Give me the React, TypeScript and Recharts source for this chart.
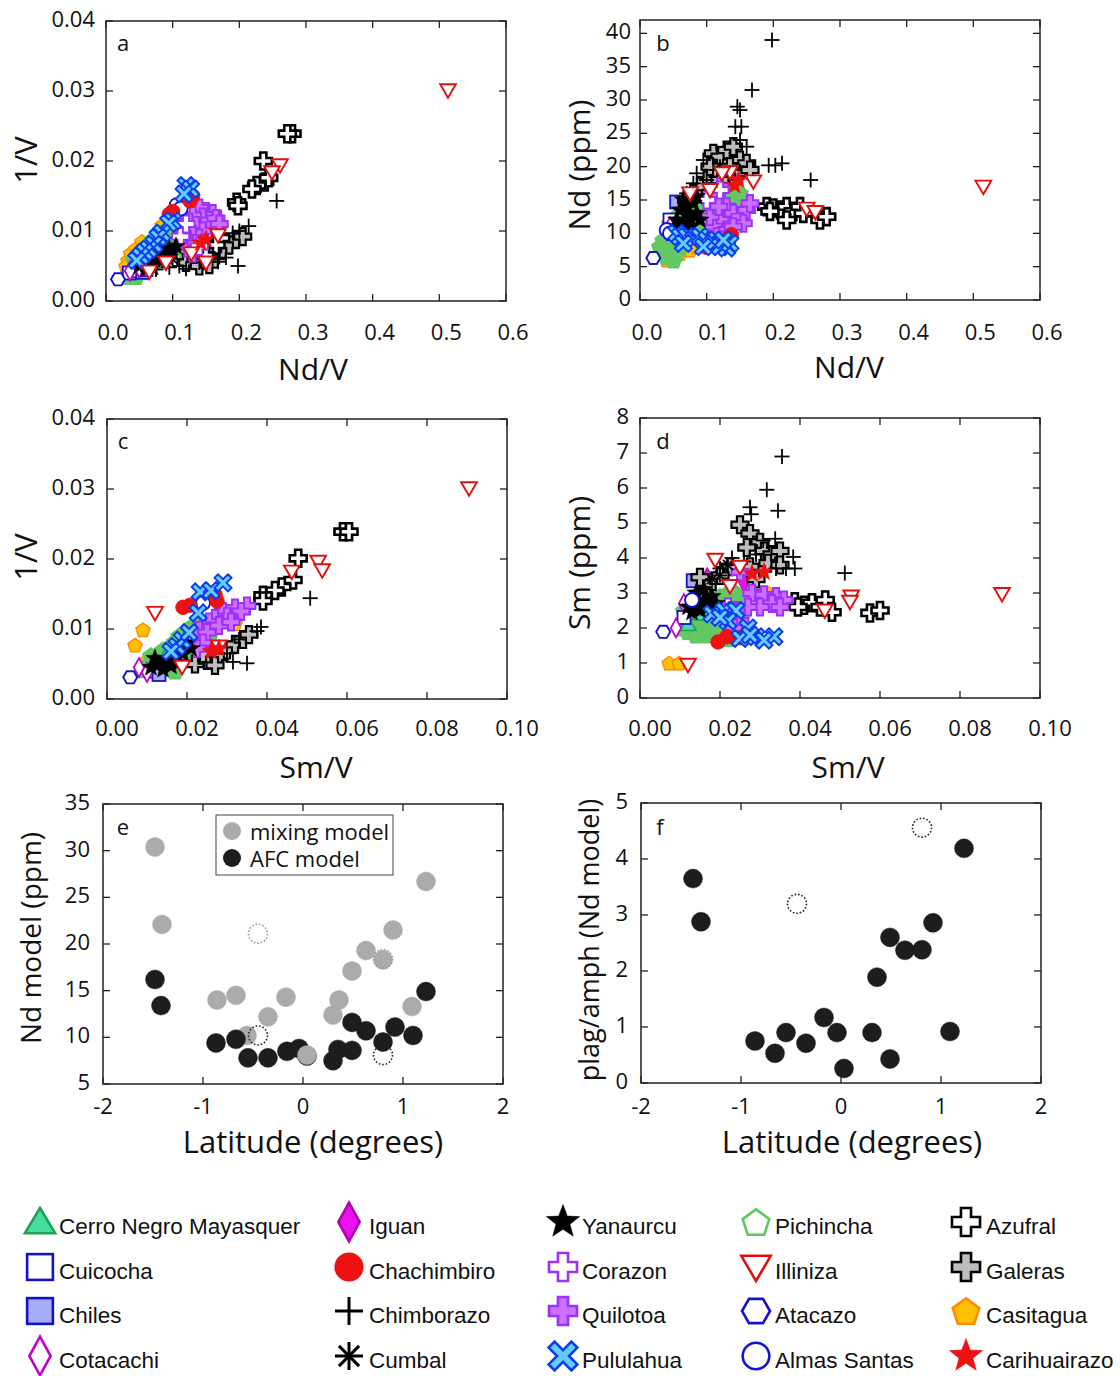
import React from 'react';
import { ScatterChart, Scatter, XAxis, YAxis, ReferenceArea } from 'recharts';

type Pt = [number, number];

// ---------------- Panel a: Nd/V (x) vs 1/V (y)
const aCerro: Pt[] = [[0.05, 0.0052], [0.065, 0.007], [0.08, 0.0085]];
const aCuicocha: Pt[] = [[0.035, 0.004], [0.048, 0.0043]];
const aChiles: Pt[] = [[0.055, 0.0041], [0.06, 0.0045]];
const aCotacachi: Pt[] = [[0.036, 0.0043], [0.05, 0.0047]];
const aIguan: Pt[] = [[0.11, 0.0085], [0.125, 0.0072]];
const aChachimbiro: Pt[] = [[0.13, 0.015], [0.126, 0.0143], [0.1, 0.0128], [0.095, 0.0124]];
const aChimborazo: Pt[] = [[0.256, 0.0143], [0.214, 0.0107], [0.2, 0.01], [0.19, 0.0097], [0.198, 0.005], [0.168, 0.0056], [0.18, 0.0062], [0.16, 0.006], [0.14, 0.0055], [0.11, 0.005], [0.095, 0.0048], [0.075, 0.0045], [0.12, 0.0046]];
const aCumbal: Pt[] = [[0.07, 0.0052], [0.08, 0.0058], [0.09, 0.0055], [0.1, 0.006]];
const aYanaurcu: Pt[] = [[0.05, 0.005], [0.055, 0.0058], [0.06, 0.0052], [0.065, 0.0062], [0.07, 0.0055], [0.075, 0.0066], [0.08, 0.006], [0.085, 0.007], [0.09, 0.0063], [0.095, 0.0075], [0.1, 0.007], [0.06, 0.0045], [0.07, 0.0048], [0.078, 0.0073], [0.105, 0.0078]];
const aCorazon: Pt[] = [[0.112, 0.0092], [0.12, 0.011], [0.14, 0.0078]];
const aQuilotoa: Pt[] = [[0.15, 0.0128], [0.16, 0.0125], [0.14, 0.0133], [0.145, 0.012], [0.155, 0.0115], [0.165, 0.0118], [0.13, 0.0122], [0.125, 0.0113], [0.135, 0.0108], [0.145, 0.01], [0.12, 0.0102], [0.13, 0.0095], [0.115, 0.0095], [0.12, 0.0086], [0.14, 0.009], [0.125, 0.0078], [0.135, 0.0082], [0.13, 0.0068], [0.17, 0.011]];
const aPululahua: Pt[] = [[0.12, 0.0165], [0.127, 0.016], [0.117, 0.0153], [0.1, 0.0114], [0.094, 0.0111], [0.084, 0.0097], [0.078, 0.0091], [0.072, 0.0081], [0.064, 0.0074], [0.058, 0.007], [0.052, 0.0064], [0.046, 0.0058]];
const aPichincha: Pt[] = [[0.03, 0.0035], [0.04, 0.0045], [0.05, 0.0055], [0.058, 0.0065], [0.066, 0.0075], [0.074, 0.0083], [0.082, 0.0092], [0.09, 0.01], [0.098, 0.0107], [0.105, 0.0112], [0.112, 0.0105], [0.125, 0.0098], [0.132, 0.009], [0.045, 0.0035], [0.06, 0.0048], [0.075, 0.0058], [0.088, 0.0068], [0.1, 0.0078], [0.118, 0.0082], [0.13, 0.0075], [0.035, 0.004], [0.055, 0.0042], [0.07, 0.0065], [0.085, 0.008], [0.11, 0.009], [0.095, 0.0088], [0.12, 0.0068], [0.14, 0.0082], [0.1, 0.0095], [0.108, 0.01], [0.115, 0.0108], [0.135, 0.0095], [0.138, 0.0088], [0.09, 0.0085], [0.042, 0.006], [0.05, 0.0068], [0.06, 0.0078], [0.07, 0.0088], [0.08, 0.0098], [0.1, 0.0105]];
const aIlliniza: Pt[] = [[0.513, 0.0301], [0.261, 0.0194], [0.249, 0.0184], [0.168, 0.0094], [0.128, 0.0068], [0.15, 0.0055], [0.09, 0.0055], [0.065, 0.0042]];
const aAtacazo: Pt[] = [[0.018, 0.0031]];
const aAlmas: Pt[] = [[0.106, 0.0137], [0.112, 0.0132]];
const aAzufral: Pt[] = [[0.279, 0.0239], [0.272, 0.0239], [0.236, 0.02], [0.238, 0.017], [0.244, 0.0176], [0.226, 0.0165], [0.219, 0.016], [0.196, 0.0141], [0.198, 0.0136], [0.172, 0.009], [0.165, 0.008], [0.15, 0.0065]];
const aGaleras: Pt[] = [[0.12, 0.0055], [0.135, 0.006], [0.15, 0.0058], [0.165, 0.0066], [0.175, 0.0072], [0.185, 0.008], [0.16, 0.0074], [0.14, 0.005], [0.155, 0.0052], [0.195, 0.0088], [0.205, 0.0092]];
const aCasitagua: Pt[] = [[0.033, 0.0058], [0.037, 0.0068], [0.045, 0.0075], [0.054, 0.0085], [0.084, 0.0108], [0.03, 0.005]];
const aCarihuairazo: Pt[] = [[0.142, 0.0083], [0.15, 0.0088]];

// ---------------- Panel b: Nd/V (x) vs Nd ppm (y)
const bCerro: Pt[] = [[0.05, 11], [0.06, 12]];
const bCuicocha: Pt[] = [[0.045, 12], [0.05, 10]];
const bChiles: Pt[] = [[0.055, 14.7]];
const bCotacachi: Pt[] = [[0.045, 11], [0.06, 10]];
const bIguan: Pt[] = [[0.1, 18], [0.095, 17]];
const bChachimbiro: Pt[] = [[0.1, 7.9], [0.097, 8.3], [0.132, 9.3], [0.137, 9.8]];
const bChimborazo: Pt[] = [[0.198, 39], [0.168, 31.5], [0.146, 29], [0.15, 28.5], [0.143, 26], [0.152, 26], [0.193, 20.2], [0.203, 20.2], [0.213, 20.5], [0.256, 18], [0.16, 23], [0.15, 24], [0.12, 20], [0.1, 18], [0.08, 17.5], [0.07, 16], [0.085, 19], [0.095, 21], [0.11, 19.5]];
const bCumbal: Pt[] = [[0.07, 13], [0.08, 12.5]];
const bYanaurcu: Pt[] = [[0.055, 12], [0.06, 13.5], [0.065, 11.5], [0.07, 14], [0.075, 12.5], [0.08, 14.5], [0.085, 13], [0.09, 12], [0.065, 15], [0.058, 11], [0.075, 11], [0.085, 15.5]];
const bCorazon: Pt[] = [[0.1, 15], [0.12, 16.5]];
const bQuilotoa: Pt[] = [[0.105, 15], [0.115, 16], [0.12, 17], [0.13, 14], [0.14, 13], [0.15, 12.5], [0.16, 13.5], [0.165, 14.5], [0.155, 11.5], [0.12, 12], [0.11, 11], [0.13, 10.5], [0.115, 9.5], [0.125, 9], [0.14, 11], [0.105, 12.5], [0.118, 14]];
const bPululahua: Pt[] = [[0.055, 10], [0.06, 9.5], [0.07, 9.5], [0.08, 9], [0.09, 9.5], [0.1, 9], [0.11, 8.5], [0.12, 8], [0.13, 7.8], [0.135, 8.5], [0.125, 9], [0.095, 8], [0.065, 8.5]];
const bPichincha: Pt[] = [[0.03, 8], [0.04, 9], [0.05, 8.5], [0.058, 10], [0.066, 11], [0.074, 12], [0.082, 11.5], [0.09, 12.5], [0.098, 13.5], [0.105, 14], [0.112, 14.5], [0.125, 15.5], [0.132, 15], [0.045, 11.5], [0.06, 8], [0.075, 9.5], [0.088, 10], [0.1, 10.5], [0.118, 12], [0.13, 13], [0.035, 7.5], [0.055, 12.5], [0.07, 10.5], [0.085, 13], [0.11, 12], [0.095, 11], [0.12, 16], [0.14, 14], [0.04, 6.5], [0.05, 6], [0.1, 13], [0.11, 15], [0.12, 14], [0.13, 16.5], [0.14, 15.5], [0.15, 16], [0.09, 14], [0.08, 12], [0.065, 9.5], [0.045, 8], [0.055, 7], [0.035, 9], [0.1, 11.5], [0.092, 10.5]];
const bIlliniza: Pt[] = [[0.515, 17], [0.25, 13.7], [0.263, 13.2], [0.17, 17.8], [0.135, 19.2], [0.123, 19], [0.075, 16], [0.105, 16.5]];
const bAtacazo: Pt[] = [[0.02, 6.3]];
const bAlmas: Pt[] = [[0.04, 10.5], [0.045, 10]];
const bAzufral: Pt[] = [[0.19, 14], [0.2, 13.8], [0.21, 13.5], [0.22, 14], [0.23, 13.3], [0.24, 14], [0.245, 13], [0.22, 12], [0.27, 12], [0.28, 12.5], [0.195, 13.3]];
const bGaleras: Pt[] = [[0.11, 22], [0.12, 21.5], [0.13, 22.5], [0.14, 23], [0.15, 21], [0.16, 20.5], [0.145, 19], [0.13, 18.5], [0.1, 18], [0.09, 17], [0.08, 16], [0.07, 15], [0.12, 18], [0.165, 19.5], [0.105, 20], [0.135, 20]];
const bCasitagua: Pt[] = [[0.04, 6], [0.05, 6.2], [0.06, 7], [0.075, 7.5], [0.085, 8], [0.035, 7]];
const bCarihuairazo: Pt[] = [[0.142, 17.2], [0.148, 18]];

// ---------------- Panel c: Sm/V (x) vs 1/V (y)
const cCerro: Pt[] = [[0.012, 0.005], [0.015, 0.0065]];
const cCuicocha: Pt[] = [[0.012, 0.004]];
const cChiles: Pt[] = [[0.013, 0.0035]];
const cCotacachi: Pt[] = [[0.008, 0.0045], [0.01, 0.0038]];
const cIguan: Pt[] = [[0.025, 0.007]];
const cChachimbiro: Pt[] = [[0.019, 0.0131], [0.0208, 0.0134], [0.027, 0.0149], [0.0275, 0.014]];
const cChimborazo: Pt[] = [[0.0508, 0.0144], [0.0385, 0.0103], [0.0375, 0.0097], [0.0315, 0.0053], [0.035, 0.0051], [0.033, 0.0085], [0.03, 0.0065]];
const cCumbal: Pt[] = [[0.014, 0.0048], [0.016, 0.0052]];
const cYanaurcu: Pt[] = [[0.011, 0.0045], [0.013, 0.005], [0.015, 0.0055], [0.017, 0.006], [0.019, 0.0065], [0.021, 0.0072], [0.014, 0.0042], [0.016, 0.0047], [0.012, 0.0058], [0.018, 0.0052], [0.02, 0.008]];
const cCorazon: Pt[] = [[0.02, 0.0085]];
const cQuilotoa: Pt[] = [[0.035, 0.0133], [0.032, 0.013], [0.0335, 0.0125], [0.029, 0.0125], [0.03, 0.0118], [0.027, 0.0115], [0.0255, 0.011], [0.024, 0.0105], [0.023, 0.0098], [0.022, 0.009], [0.025, 0.0095], [0.028, 0.0105], [0.024, 0.008], [0.0225, 0.0072], [0.031, 0.011]];
const cPululahua: Pt[] = [[0.0233, 0.0153], [0.026, 0.0155], [0.029, 0.0166], [0.0228, 0.0123], [0.0188, 0.0084], [0.0175, 0.0075], [0.016, 0.0068], [0.0205, 0.0095]];
const cPichincha: Pt[] = [[0.01, 0.0045], [0.012, 0.0052], [0.014, 0.006], [0.016, 0.0068], [0.018, 0.0076], [0.02, 0.0085], [0.022, 0.0093], [0.024, 0.01], [0.026, 0.0108], [0.013, 0.004], [0.016, 0.0048], [0.019, 0.0058], [0.022, 0.0068], [0.024, 0.0078], [0.011, 0.0062], [0.015, 0.0072], [0.018, 0.009], [0.021, 0.0103], [0.0255, 0.0088], [0.017, 0.004], [0.023, 0.0105], [0.02, 0.0095], [0.017, 0.0082], [0.014, 0.007], [0.011, 0.0052], [0.009, 0.0042], [0.025, 0.0095], [0.021, 0.0078]];
const cIlliniza: Pt[] = [[0.0905, 0.0301], [0.0528, 0.0196], [0.0538, 0.0184], [0.0462, 0.0182], [0.012, 0.0123], [0.0188, 0.0046], [0.028, 0.0075]];
const cAtacazo: Pt[] = [[0.0058, 0.0031]];
const cAlmas: Pt[] = [[0.024, 0.0137]];
const cAzufral: Pt[] = [[0.059, 0.0239], [0.0605, 0.0239], [0.0478, 0.0201], [0.0465, 0.017], [0.0437, 0.016], [0.042, 0.0155], [0.039, 0.0148], [0.039, 0.014]];
const cGaleras: Pt[] = [[0.022, 0.005], [0.025, 0.0055], [0.028, 0.006], [0.03, 0.007], [0.032, 0.0078], [0.034, 0.0085], [0.0355, 0.0092], [0.027, 0.0048], [0.024, 0.0065]];
const cCasitagua: Pt[] = [[0.009, 0.0099], [0.007, 0.0077], [0.032, 0.0108], [0.012, 0.006], [0.01, 0.0055]];
const cCarihuairazo: Pt[] = [[0.026, 0.0068], [0.028, 0.0072]];

// ---------------- Panel d: Sm/V (x) vs Sm ppm (y)
const dCerro: Pt[] = [[0.012, 2.1], [0.015, 2.4]];
const dCuicocha: Pt[] = [[0.011, 2.3]];
const dChiles: Pt[] = [[0.0133, 3.35]];
const dCotacachi: Pt[] = [[0.009, 2.0], [0.011, 2.7]];
const dIguan: Pt[] = [[0.0168, 3.45], [0.026, 3.3]];
const dChachimbiro: Pt[] = [[0.0195, 1.6], [0.0217, 1.75], [0.027, 1.9], [0.025, 1.72]];
const dChimborazo: Pt[] = [[0.0355, 6.9], [0.0317, 5.95], [0.0345, 5.35], [0.0275, 5.45], [0.0278, 5.25], [0.0512, 3.57], [0.0383, 4.03], [0.0387, 3.7], [0.0365, 3.7], [0.034, 3.7], [0.0338, 4.55], [0.0308, 4.5], [0.02, 3.7], [0.023, 4.0], [0.029, 4.1], [0.026, 3.9]];
const dCumbal: Pt[] = [[0.02, 3.5], [0.022, 3.8], [0.018, 3.4]];
const dYanaurcu: Pt[] = [[0.012, 2.6], [0.014, 2.7], [0.016, 2.8], [0.018, 2.9], [0.013, 2.45], [0.015, 2.5], [0.017, 2.6], [0.019, 2.7], [0.014, 3.0], [0.016, 3.1]];
const dCorazon: Pt[] = [[0.022, 2.6]];
const dQuilotoa: Pt[] = [[0.028, 3.0], [0.031, 2.95], [0.034, 2.9], [0.036, 2.8], [0.033, 2.7], [0.03, 2.6], [0.027, 2.6], [0.024, 2.5], [0.022, 2.3], [0.025, 2.2], [0.0235, 2.0], [0.025, 3.6], [0.035, 2.6]];
const dPululahua: Pt[] = [[0.018, 2.4], [0.021, 2.5], [0.024, 2.5], [0.022, 2.2], [0.027, 2.0], [0.025, 1.7], [0.029, 1.75], [0.0335, 1.75], [0.031, 1.65], [0.0275, 1.8], [0.02, 2.3]];
const dPichincha: Pt[] = [[0.01, 2.0], [0.012, 2.2], [0.014, 2.4], [0.016, 2.6], [0.018, 2.8], [0.02, 2.9], [0.022, 3.0], [0.024, 3.0], [0.026, 2.8], [0.012, 1.9], [0.015, 2.0], [0.018, 2.1], [0.02, 2.5], [0.022, 2.7], [0.016, 2.3], [0.014, 1.8], [0.02, 1.8], [0.024, 2.4], [0.011, 2.5], [0.017, 1.8], [0.026, 2.5], [0.025, 2.1], [0.022, 1.7], [0.019, 1.9], [0.013, 2.2], [0.027, 3.0]];
const dIlliniza: Pt[] = [[0.0905, 2.97], [0.0528, 2.9], [0.0525, 2.75], [0.0462, 2.5], [0.012, 0.95], [0.0188, 3.95], [0.025, 3.75], [0.0225, 3.2]];
const dAtacazo: Pt[] = [[0.0058, 1.89]];
const dAlmas: Pt[] = [[0.013, 2.8]];
const dAzufral: Pt[] = [[0.0387, 2.75], [0.041, 2.65], [0.043, 2.72], [0.045, 2.6], [0.0463, 2.8], [0.048, 2.45], [0.0575, 2.43], [0.06, 2.5], [0.0395, 2.6]];
const dGaleras: Pt[] = [[0.025, 4.95], [0.0275, 4.7], [0.03, 4.45], [0.0267, 4.3], [0.031, 4.2], [0.033, 4.1], [0.035, 4.2], [0.032, 3.85], [0.0275, 3.75], [0.0225, 3.75], [0.02, 3.5], [0.0168, 3.17], [0.015, 3.45], [0.029, 3.4], [0.035, 3.8]];
const dCasitagua: Pt[] = [[0.0073, 1.0], [0.0098, 1.0], [0.032, 3.0], [0.02, 2.3], [0.016, 2.0], [0.022, 2.0]];
const dCarihuairazo: Pt[] = [[0.028, 3.55], [0.031, 3.6]];

// ---------------- Panel e: latitude vs Nd model
const eMixing: Pt[] = [[-1.48, 30.4], [-1.41, 22.1], [-0.86, 14.0], [-0.67, 14.5], [-0.35, 12.2], [-0.17, 14.3], [-0.56, 10.2], [0.3, 12.4], [0.36, 14.0], [0.49, 17.1], [0.63, 19.3], [0.9, 21.5], [0.8, 18.3], [1.09, 13.3], [1.23, 26.7]];
const eMixingTop: Pt[] = [[0.04, 8.1]];
const eAFC: Pt[] = [[-1.48, 16.2], [-1.42, 13.4], [-0.87, 9.4], [-0.67, 9.8], [-0.55, 7.8], [-0.35, 7.8], [-0.16, 8.5], [-0.04, 8.8], [0.04, 8.0], [0.3, 7.5], [0.35, 8.7], [0.49, 8.6], [0.49, 11.6], [0.63, 10.7], [0.8, 9.5], [0.92, 11.1], [1.1, 10.2], [1.23, 14.9]];
const eMixingDotted: Pt[] = [[-0.45, 21.1], [0.8, 18.4]];
const eAFCDotted: Pt[] = [[-0.45, 10.2], [0.8, 8.1]];

// ---------------- Panel f: latitude vs plag/amph
const fAFC: Pt[] = [[-1.48, 3.65], [-1.4, 2.88], [-0.86, 0.75], [-0.66, 0.53], [-0.55, 0.9], [-0.35, 0.71], [-0.17, 1.17], [-0.04, 0.9], [0.03, 0.26], [0.31, 0.9], [0.36, 1.89], [0.49, 2.6], [0.49, 0.43], [0.64, 2.37], [0.81, 2.38], [0.92, 2.86], [1.09, 0.92], [1.23, 4.19]];
const fDotted: Pt[] = [[-0.44, 3.2], [0.81, 4.56]];

// ---------------- ticks
const ticksNdV = [0, 0.1, 0.2, 0.3, 0.4, 0.5, 0.6];
const ticksInvV = [0, 0.01, 0.02, 0.03, 0.04];
const ticksNd = [0, 5, 10, 15, 20, 25, 30, 35, 40];
const ticksSmV = [0, 0.02, 0.04, 0.06, 0.08, 0.1];
const ticksSm = [0, 1, 2, 3, 4, 5, 6, 7, 8];
const ticksLat = [-2, -1, 0, 1, 2];
const ticksNdModel = [5, 10, 15, 20, 25, 30, 35];
const ticksPlag = [0, 1, 2, 3, 4, 5];

const seriesNames = [
  'Cerro Negro Mayasquer', 'Cuicocha', 'Chiles', 'Cotacachi',
  'Iguan', 'Chachimbiro', 'Chimborazo', 'Cumbal',
  'Yanaurcu', 'Corazon', 'Quilotoa', 'Pululahua',
  'Pichincha', 'Illiniza', 'Atacazo', 'Almas Santas',
  'Azufral', 'Galeras', 'Casitagua', 'Carihuairazo',
];

type Kind = 'tri' | 'sq' | 'dia' | 'circ' | 'plus' | 'ast' | 'star' | 'cross' | 'x' | 'pent' | 'itri' | 'hex';
interface Sty { kind: Kind; fill: string; stroke: string; sw: number; plotFill?: string; r: number }

const STY: Record<string, Sty> = {
  'Cerro Negro Mayasquer': { kind: 'tri', fill: '#44dd9c', stroke: '#1f9f57', sw: 1.6, r: 7.5 },
  'Cuicocha': { kind: 'sq', fill: '#ffffff', stroke: '#1212c8', sw: 1.8, r: 6.5 },
  'Chiles': { kind: 'sq', fill: '#a9adf7', stroke: '#1212c8', sw: 1.8, r: 6.5 },
  'Cotacachi': { kind: 'dia', fill: '#ffffff', stroke: '#c000cc', sw: 1.8, r: 6.5 },
  'Iguan': { kind: 'dia', fill: '#ee10ee', stroke: '#b000b0', sw: 1.2, r: 6.5 },
  'Chachimbiro': { kind: 'circ', fill: '#ee1111', stroke: '#ee1111', sw: 1, r: 7.2 },
  'Chimborazo': { kind: 'plus', fill: 'none', stroke: '#000000', sw: 1.8, r: 7.5 },
  'Cumbal': { kind: 'ast', fill: 'none', stroke: '#000000', sw: 1.7, r: 7 },
  'Yanaurcu': { kind: 'star', fill: '#000000', stroke: '#000000', sw: 0.5, r: 9.5 },
  'Corazon': { kind: 'cross', fill: '#ffffff', stroke: '#9b30ff', sw: 1.9, r: 8.5 },
  'Quilotoa': { kind: 'cross', fill: '#cc70ff', stroke: '#9b30ff', sw: 1.9, r: 8.5 },
  'Pululahua': { kind: 'x', fill: '#66ccff', stroke: '#0a3cf0', sw: 1.9, r: 8.3 },
  'Pichincha': { kind: 'pent', fill: '#ffffff', stroke: '#5fc85f', sw: 1.6, plotFill: '#66c766', r: 8.5 },
  'Illiniza': { kind: 'itri', fill: '#ffffff', stroke: '#e01010', sw: 1.9, r: 7.5 },
  'Atacazo': { kind: 'hex', fill: '#ffffff', stroke: '#1212c8', sw: 1.9, r: 7 },
  'Almas Santas': { kind: 'circ', fill: '#ffffff', stroke: '#1212d8', sw: 1.9, r: 7 },
  'Azufral': { kind: 'cross', fill: '#ffffff', stroke: '#000000', sw: 2.6, r: 8.5 },
  'Galeras': { kind: 'cross', fill: '#bdbdbd', stroke: '#000000', sw: 2.2, r: 8.5 },
  'Casitagua': { kind: 'pent', fill: '#ffc000', stroke: '#ff8c00', sw: 1.4, r: 7.5 },
  'Carihuairazo': { kind: 'star', fill: '#ee1111', stroke: '#ee1111', sw: 0.5, r: 9.5 },
};

const AX_FONT = '"Open Sans", "Noto Sans", sans-serif';
const LEG_FONT = '"Liberation Sans", Arial, sans-serif';

function regPoly(n: number, r: number, rot: number, cx: number, cy: number) {
  const p: string[] = [];
  for (let i = 0; i < n; i++) {
    const a = rot + (i * 2 * Math.PI) / n;
    p.push(`${cx + r * Math.cos(a)},${cy + r * Math.sin(a)}`);
  }
  return p.join(' ');
}

function starPts(r: number, cx: number, cy: number) {
  const p: string[] = [];
  for (let i = 0; i < 10; i++) {
    const a = -Math.PI / 2 + (i * Math.PI) / 5;
    const rr = i % 2 === 0 ? r : r * 0.42;
    p.push(`${cx + rr * Math.cos(a)},${cy + rr * Math.sin(a)}`);
  }
  return p.join(' ');
}

function crossPts(r: number, a: number, rot: number, cx: number, cy: number) {
  const base: Pt[] = [[-a, -r], [a, -r], [a, -a], [r, -a], [r, a], [a, a], [a, r], [-a, r], [-a, a], [-r, a], [-r, -a], [-a, -a]];
  const c = Math.cos(rot), s = Math.sin(rot);
  return base.map(([x, y]) => `${cx + x * c - y * s},${cy + x * s + y * c}`).join(' ');
}

function drawMarker(sty: Sty, cx: number, cy: number, r: number, sw: number, fill: string) {
  const st = sty.stroke;
  switch (sty.kind) {
    case 'tri':
      return <polygon points={`${cx},${cy - r} ${cx + r * 1.08},${cy + r * 0.8} ${cx - r * 1.08},${cy + r * 0.8}`} fill={fill} stroke={st} strokeWidth={sw} />;
    case 'itri':
      return <polygon points={`${cx},${cy + r} ${cx + r * 1.05},${cy - r * 0.8} ${cx - r * 1.05},${cy - r * 0.8}`} fill={fill} stroke={st} strokeWidth={sw} />;
    case 'sq':
      return <rect x={cx - r} y={cy - r} width={2 * r} height={2 * r} fill={fill} stroke={st} strokeWidth={sw} />;
    case 'dia':
      return <polygon points={`${cx},${cy - r * 1.45} ${cx + r * 0.8},${cy} ${cx},${cy + r * 1.45} ${cx - r * 0.8},${cy}`} fill={fill} stroke={st} strokeWidth={sw} />;
    case 'circ':
      return <circle cx={cx} cy={cy} r={r} fill={fill} stroke={st} strokeWidth={sw} />;
    case 'plus':
      return (
        <g stroke={st} strokeWidth={sw}>
          <line x1={cx - r} y1={cy} x2={cx + r} y2={cy} />
          <line x1={cx} y1={cy - r} x2={cx} y2={cy + r} />
        </g>
      );
    case 'ast':
      return (
        <g stroke={st} strokeWidth={sw}>
          <line x1={cx - r} y1={cy} x2={cx + r} y2={cy} />
          <line x1={cx} y1={cy - r} x2={cx} y2={cy + r} />
          <line x1={cx - r * 0.72} y1={cy - r * 0.72} x2={cx + r * 0.72} y2={cy + r * 0.72} />
          <line x1={cx - r * 0.72} y1={cy + r * 0.72} x2={cx + r * 0.72} y2={cy - r * 0.72} />
        </g>
      );
    case 'star':
      return <polygon points={starPts(r, cx, cy)} fill={fill} stroke={st} strokeWidth={sw} />;
    case 'cross':
      return <polygon points={crossPts(r, r * 0.36, 0, cx, cy)} fill={fill} stroke={st} strokeWidth={sw} />;
    case 'x':
      return <polygon points={crossPts(r * 1.15, r * 0.3, Math.PI / 4, cx, cy)} fill={fill} stroke={st} strokeWidth={sw} />;
    case 'pent':
      return <polygon points={regPoly(5, r, -Math.PI / 2, cx, cy + r * 0.1)} fill={fill} stroke={st} strokeWidth={sw} />;
    case 'hex':
      return <polygon points={regPoly(6, r, 0, cx, cy)} fill={fill} stroke={st} strokeWidth={sw} />;
  }
  return <g />;
}

const toObj = (a: Pt[]) => a.map(([x, y]) => ({ x, y }));

// order of drawing (bottom -> top)
const drawOrder = ['Casitagua', 'Pichincha', 'Cerro Negro Mayasquer', 'Cuicocha', 'Chiles', 'Cotacachi', 'Iguan', 'Atacazo', 'Galeras', 'Azufral', 'Chimborazo', 'Quilotoa', 'Corazon', 'Yanaurcu', 'Cumbal', 'Almas Santas', 'Chachimbiro', 'Pululahua', 'Illiniza', 'Carihuairazo'];

const panelA: Record<string, Pt[]> = { 'Cerro Negro Mayasquer': aCerro, Cuicocha: aCuicocha, Chiles: aChiles, Cotacachi: aCotacachi, Iguan: aIguan, Chachimbiro: aChachimbiro, Chimborazo: aChimborazo, Cumbal: aCumbal, Yanaurcu: aYanaurcu, Corazon: aCorazon, Quilotoa: aQuilotoa, Pululahua: aPululahua, Pichincha: aPichincha, Illiniza: aIlliniza, Atacazo: aAtacazo, 'Almas Santas': aAlmas, Azufral: aAzufral, Galeras: aGaleras, Casitagua: aCasitagua, Carihuairazo: aCarihuairazo };
const panelB: Record<string, Pt[]> = { 'Cerro Negro Mayasquer': bCerro, Cuicocha: bCuicocha, Chiles: bChiles, Cotacachi: bCotacachi, Iguan: bIguan, Chachimbiro: bChachimbiro, Chimborazo: bChimborazo, Cumbal: bCumbal, Yanaurcu: bYanaurcu, Corazon: bCorazon, Quilotoa: bQuilotoa, Pululahua: bPululahua, Pichincha: bPichincha, Illiniza: bIlliniza, Atacazo: bAtacazo, 'Almas Santas': bAlmas, Azufral: bAzufral, Galeras: bGaleras, Casitagua: bCasitagua, Carihuairazo: bCarihuairazo };
const panelC: Record<string, Pt[]> = { 'Cerro Negro Mayasquer': cCerro, Cuicocha: cCuicocha, Chiles: cChiles, Cotacachi: cCotacachi, Iguan: cIguan, Chachimbiro: cChachimbiro, Chimborazo: cChimborazo, Cumbal: cCumbal, Yanaurcu: cYanaurcu, Corazon: cCorazon, Quilotoa: cQuilotoa, Pululahua: cPululahua, Pichincha: cPichincha, Illiniza: cIlliniza, Atacazo: cAtacazo, 'Almas Santas': cAlmas, Azufral: cAzufral, Galeras: cGaleras, Casitagua: cCasitagua, Carihuairazo: cCarihuairazo };
const panelD: Record<string, Pt[]> = { 'Cerro Negro Mayasquer': dCerro, Cuicocha: dCuicocha, Chiles: dChiles, Cotacachi: dCotacachi, Iguan: dIguan, Chachimbiro: dChachimbiro, Chimborazo: dChimborazo, Cumbal: dCumbal, Yanaurcu: dYanaurcu, Corazon: dCorazon, Quilotoa: dQuilotoa, Pululahua: dPululahua, Pichincha: dPichincha, Illiniza: dIlliniza, Atacazo: dAtacazo, 'Almas Santas': dAlmas, Azufral: dAzufral, Galeras: dGaleras, Casitagua: dCasitagua, Carihuairazo: dCarihuairazo };

const PL = 100, PT = 20, PW = 400, PH = 280, PR = 50, PB = 50;

interface PanelCfg {
  left: number; top: number;
  xDomain: [number, number]; yDomain: [number, number];
  xTicks: number[]; yTicks: number[];
  xFmt: (v: number) => string; yFmt: (v: number) => string;
  xdx: number; xm: number; ym: number;
  children: React.ReactNode;
}

function Panel({ left, top, xDomain, yDomain, xTicks, yTicks, xFmt, yFmt, xdx, xm, ym, children }: PanelCfg) {
  const TL = 7;
  const xTick = (p: any) => {
    const cx = p.x;
    return (
      <g>
        <line x1={cx} y1={PT + PH} x2={cx} y2={PT + PH - TL} stroke="#222" strokeWidth={1.3} />
        <line x1={cx} y1={PT} x2={cx} y2={PT + TL} stroke="#222" strokeWidth={1.3} />
        <text x={cx + xdx} y={p.y} textAnchor="middle" dominantBaseline="central" fontFamily={AX_FONT} fontSize={22} fill="#111">{xFmt(p.payload.value)}</text>
      </g>
    );
  };
  const yTick = (p: any) => {
    const cy = p.y;
    return (
      <g>
        <line x1={PL} y1={cy} x2={PL + TL} y2={cy} stroke="#222" strokeWidth={1.3} />
        <line x1={PL + PW - TL} y1={cy} x2={PL + PW} y2={cy} stroke="#222" strokeWidth={1.3} />
        <text x={p.x} y={cy - 3} textAnchor="end" dominantBaseline="central" fontFamily={AX_FONT} fontSize={22} fill="#111">{yFmt(p.payload.value)}</text>
      </g>
    );
  };
  return (
    <div style={{ position: 'absolute', left: left - PL, top: top - PT }}>
      <ScatterChart width={PL + PW + PR} height={PT + PH + PB} margin={{ top: PT, right: PR, left: 0, bottom: 0 }}>
        <XAxis type="number" dataKey="x" domain={xDomain} ticks={xTicks} interval={0} allowDataOverflow height={PB} tickSize={0} tickMargin={xm} axisLine={false} tickLine={false} tick={xTick} />
        <YAxis type="number" dataKey="y" domain={yDomain} ticks={yTicks} interval={0} allowDataOverflow width={PL} tickSize={0} tickMargin={ym} axisLine={false} tickLine={false} tick={yTick} />
        <ReferenceArea x1={xDomain[0]} x2={xDomain[1]} y1={yDomain[0]} y2={yDomain[1]} fill="none" fillOpacity={0} stroke="#222" strokeWidth={1.5} ifOverflow="visible" />
        {children}
      </ScatterChart>
    </div>
  );
}

function volcanoSeries(panel: Record<string, Pt[]>) {
  return drawOrder.map((name) => {
    const sty = STY[name];
    return (
      <Scatter
        key={name}
        name={name}
        data={toObj(panel[name])}
        isAnimationActive={false}
        shape={(p: any) => drawMarker(sty, p.cx, p.cy, sty.r, sty.sw, sty.plotFill || sty.fill)}
      />
    );
  });
}

const circleShape = (fill: string, stroke: string, dashed: boolean) => (p: any) => (
  <circle cx={p.cx} cy={p.cy} r={9.5} fill={fill} stroke={stroke} strokeWidth={dashed ? 1.6 : 0.5} strokeDasharray={dashed ? '1.6 1.9' : undefined} />
);

const GRAY = '#ababab';
const BLACK = '#1d1d1d';

const f1 = (v: number) => v.toFixed(1);
const f2 = (v: number) => v.toFixed(2);
const f0 = (v: number) => String(v);

function Titles() {
  const t = (x: number, y: number, s: string, size: number, rot = false) => (
    <text key={s + x + y} x={x} y={y} textAnchor="middle" dominantBaseline="central" fontFamily={AX_FONT} fontSize={size} fill="#111" transform={rot ? `rotate(-90 ${x} ${y})` : undefined}>{s}</text>
  );
  return (
    <svg width={1120} height={1190} style={{ position: 'absolute', left: 0, top: 0, pointerEvents: 'none' }}>
      {t(25, 160, '1/V', 31, true)}
      {t(313, 368, 'Nd/V', 30)}
      {t(578, 165, 'Nd (ppm)', 30, true)}
      {t(849, 366, 'Nd/V', 30)}
      {t(25, 557, '1/V', 31, true)}
      {t(316, 766, 'Sm/V', 30)}
      {t(578, 563, 'Sm (ppm)', 30, true)}
      {t(848, 766, 'Sm/V', 30)}
      {t(30, 938, 'Nd model (ppm)', 28, true)}
      {t(313, 1141, 'Latitude (degrees)', 31)}
      {t(588, 940, 'plag/amph (Nd model)', 27, true)}
      {t(852, 1141, 'Latitude (degrees)', 31)}
      {t(123, 42, 'a', 22)}
      {t(663, 42, 'b', 22)}
      {t(123, 440, 'c', 22)}
      {t(663, 440, 'd', 22)}
      {t(123, 826, 'e', 22)}
      {t(660, 826, 'f', 22)}
      <rect x={216} y={815} width={177} height={60} fill="#fff" stroke="#444" strokeWidth={1} />
      <circle cx={232} cy={831} r={9} fill={GRAY} />
      <text x={250} y={831} dominantBaseline="central" fontFamily={AX_FONT} fontSize={22} fill="#111">mixing model</text>
      <circle cx={232} cy={858} r={9} fill={BLACK} />
      <text x={250} y={858} dominantBaseline="central" fontFamily={AX_FONT} fontSize={22} fill="#111">AFC model</text>
    </svg>
  );
}

function LegendBlock() {
  const colX = [40, 349, 563, 756, 966];
  const textX = [59, 369, 582, 775, 986];
  const rowY = [1226, 1271, 1315, 1360];
  return (
    <svg width={1120} height={1376} style={{ position: 'absolute', left: 0, top: 0, pointerEvents: 'none' }}>
      {seriesNames.map((name, i) => {
        const col = Math.floor(i / 4);
        const row = i % 4;
        const sty = STY[name];
        const r = 14 * (sty.kind === 'star' ? 1.25 : sty.kind === 'dia' ? 0.95 : sty.kind === 'x' ? 1.0 : sty.kind === 'circ' ? 0.95 : sty.kind === 'sq' ? 0.92 : 1);
        const sw = sty.kind === 'plus' || sty.kind === 'ast' ? 3 : sty.kind === 'star' ? 0.5 : 2.6;
        return (
          <g key={name}>
            {drawMarker(sty, colX[col], rowY[row] - 4, r, sw, sty.fill)}
            <text x={textX[col]} y={rowY[row]} dominantBaseline="central" fontFamily={LEG_FONT} fontSize={22.5} fill="#111">{name}</text>
          </g>
        );
      })}
    </svg>
  );
}

export default function App() {
  return (
    <div style={{ position: 'absolute', left: 0, top: 0, width: 1120, height: 1376, background: '#fff', overflow: 'hidden' }}>
      <Panel left={106} top={21} xDomain={[0, 0.6]} yDomain={[0, 0.04]} xTicks={ticksNdV} yTicks={ticksInvV} xFmt={f1} yFmt={f2} xdx={7} xm={30} ym={11}>
        {volcanoSeries(panelA)}
      </Panel>
      <Panel left={640} top={20} xDomain={[0, 0.6]} yDomain={[0, 42]} xTicks={ticksNdV} yTicks={ticksNd} xFmt={f1} yFmt={f0} xdx={7} xm={31} ym={9}>
        {volcanoSeries(panelB)}
      </Panel>
      <Panel left={107} top={419} xDomain={[0, 0.1]} yDomain={[0, 0.04]} xTicks={ticksSmV} yTicks={ticksInvV} xFmt={f2} yFmt={f2} xdx={10} xm={28} ym={12}>
        {volcanoSeries(panelC)}
      </Panel>
      <Panel left={640} top={418} xDomain={[0, 0.1]} yDomain={[0, 8]} xTicks={ticksSmV} yTicks={ticksSm} xFmt={f2} yFmt={f0} xdx={10} xm={29} ym={11}>
        {volcanoSeries(panelD)}
      </Panel>
      <Panel left={103} top={804} xDomain={[-2, 2]} yDomain={[5, 35]} xTicks={ticksLat} yTicks={ticksNdModel} xFmt={f0} yFmt={f0} xdx={0} xm={21} ym={13}>
        <Scatter name="mixing model" data={toObj(eMixing)} isAnimationActive={false} shape={circleShape(GRAY, GRAY, false)} />
        <Scatter name="AFC model" data={toObj(eAFC)} isAnimationActive={false} shape={circleShape(BLACK, BLACK, false)} />
        <Scatter name="mixing model (top)" data={toObj(eMixingTop)} isAnimationActive={false} shape={circleShape(GRAY, GRAY, false)} />
        <Scatter name="mixing dotted" data={toObj(eMixingDotted)} isAnimationActive={false} shape={circleShape('none', '#999', true)} />
        <Scatter name="AFC dotted" data={toObj(eAFCDotted)} isAnimationActive={false} shape={circleShape('none', '#222', true)} />
      </Panel>
      <Panel left={641} top={803} xDomain={[-2, 2]} yDomain={[0, 5]} xTicks={ticksLat} yTicks={ticksPlag} xFmt={f0} yFmt={f0} xdx={0} xm={22} ym={13}>
        <Scatter name="AFC model" data={toObj(fAFC)} isAnimationActive={false} shape={circleShape(BLACK, BLACK, false)} />
        <Scatter name="AFC dotted" data={toObj(fDotted)} isAnimationActive={false} shape={circleShape('none', '#222', true)} />
      </Panel>
      <Titles />
      <LegendBlock />
    </div>
  );
}
